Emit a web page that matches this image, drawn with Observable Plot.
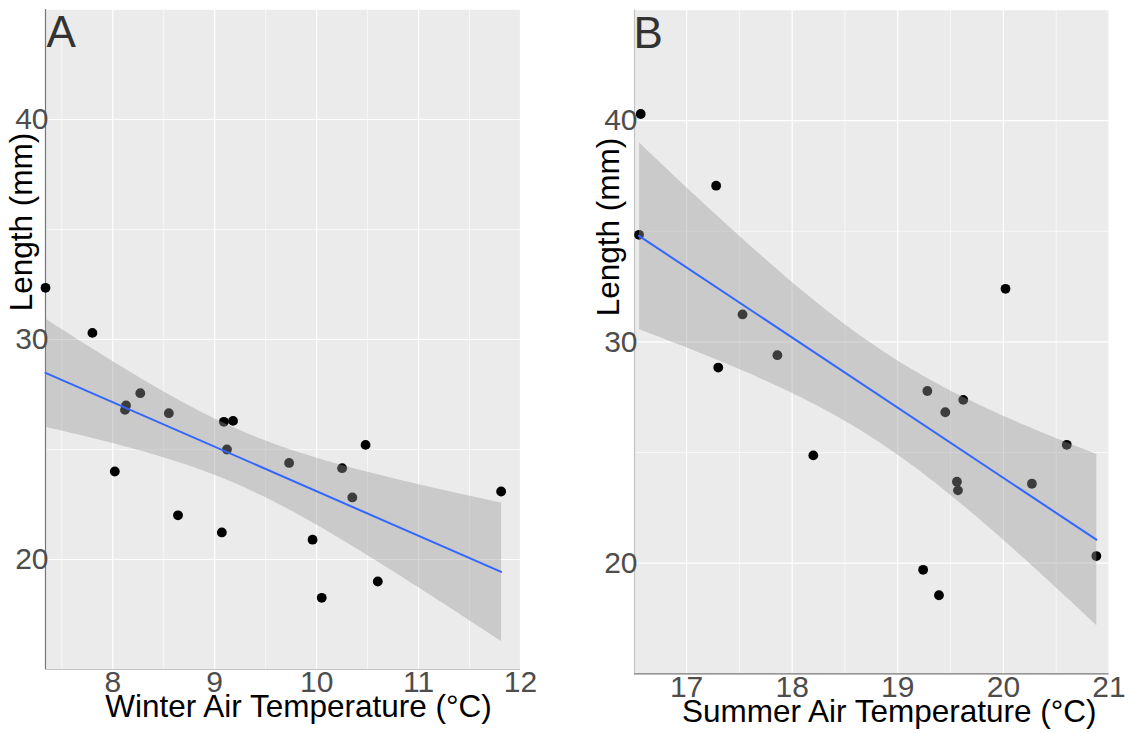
<!DOCTYPE html>
<html>
<head>
<meta charset="utf-8">
<script src="https://cdn.jsdelivr.net/npm/d3@7"></script>
<script src="https://cdn.jsdelivr.net/npm/@observablehq/plot@0.6"></script>
<style>
  html, body { margin: 0; padding: 0; background: #ffffff; }
  #wrap { position: relative; width: 1132px; height: 733px; overflow: hidden; }
  #wrap svg { position: absolute; top: 0; overflow: visible; }
</style>
</head>
<body>
<div id="wrap"></div>
<script>
// ---- Data ----
const winterTemp   = [7.34, 7.80, 8.27, 8.13, 8.12, 8.55, 9.09, 9.18, 9.12, 10.48, 8.02, 9.73, 10.25, 10.35, 11.81, 8.64, 9.07, 9.96, 10.60, 10.05];
const winterLength = [32.35, 30.30, 27.56, 27.0, 26.8, 26.65, 26.26, 26.30, 25.0, 25.21, 24.0, 24.39, 24.15, 22.82, 23.09, 22.01, 21.23, 20.9, 19.0, 18.26];

const summerTemp   = [16.566, 16.55, 17.28, 20.02, 17.53, 17.86, 17.30, 19.28, 19.62, 19.45, 20.60, 18.20, 19.56, 19.57, 20.27, 20.88, 19.24, 19.39];
const summerLength = [40.30, 34.84, 37.06, 32.40, 31.24, 29.40, 28.84, 27.78, 27.38, 26.82, 25.35, 24.87, 23.68, 23.29, 23.59, 20.32, 19.70, 18.55];

const xTicksA = [8, 9, 10, 11, 12];
const xMinorA = [7.5, 8.5, 9.5, 10.5, 11.5];
const xTicksB = [17, 18, 19, 20, 21];
const xMinorB = [17.5, 18.5, 19.5, 20.5];
const yTicks  = [20, 30, 40];
const yMinor  = [15, 25, 35, 45];

const xDomainA = [7.34, 12];
const xDomainB = [16.507, 21];
const yDomain  = [15, 45];

const panelLabelA = "A";
const panelLabelB = "B";
const xTitleA = "Winter Air Temperature (°C)";
const xTitleB = "Summer Air Temperature (°C)";
const yTitle  = "Length (mm)";

const winter = winterTemp.map((t, i) => ({temp: t, length: winterLength[i]}));
const summer = summerTemp.map((t, i) => ({temp: t, length: summerLength[i]}));

const FONT = "'Liberation Sans', Arial, Helvetica, sans-serif";
const fmt = d => String(d);

function panel(cfg) {
  return Plot.plot({
    width: cfg.width,
    height: 733,
    marginLeft: cfg.ml,
    marginRight: cfg.mr,
    marginTop: cfg.mt,
    marginBottom: cfg.mb,
    style: {fontFamily: FONT, background: "transparent", overflow: "visible"},
    x: {domain: cfg.xDomain},
    y: {domain: yDomain},
    marks: [
      Plot.frame({fill: "#EBEBEB", stroke: "none"}),
      Plot.gridX({ticks: cfg.xMinor, stroke: "#ffffff", strokeOpacity: 1, strokeWidth: 0.6}),
      Plot.gridY({ticks: yMinor, stroke: "#ffffff", strokeOpacity: 1, strokeWidth: 0.6}),
      Plot.gridX({ticks: cfg.xTicks, stroke: "#ffffff", strokeOpacity: 1, strokeWidth: 1.2}),
      Plot.gridY({ticks: yTicks, stroke: "#ffffff", strokeOpacity: 1, strokeWidth: 1.2}),
      Plot.ruleX([cfg.xDomain[0]], {stroke: cfg.leftAxisColor, strokeWidth: 1.2}),
      Plot.ruleY([yDomain[0]], {stroke: cfg.bottomAxisColor, strokeWidth: 1.2}),
      Plot.dot(cfg.data, {x: "temp", y: "length", r: 4.9, fill: "#000000", stroke: "none"}),
      Plot.linearRegressionY(cfg.data, {
        x: "temp", y: "length", ci: 0.95,
        stroke: "#3366FF", strokeWidth: 2,
        fill: "#999999", fillOpacity: 0.4
      }),
      Plot.axisX({ticks: cfg.xTicks, tickFormat: fmt, tickSize: 0, tickPadding: 1.5, fontSize: 30, fill: "#4D4D4D", label: null}),
      Plot.axisY({ticks: yTicks, tickFormat: fmt, tickSize: 0, tickPadding: -3, fontSize: 30, fill: "#4D4D4D", label: null}),
      Plot.text([cfg.panelLabel], {text: d => d, frameAnchor: "top-left", textAnchor: "start", lineAnchor: "top",
        fontSize: 44, fill: "#333333", dx: cfg.labelDx, dy: cfg.labelDy}),
      Plot.text([cfg.xTitle], {text: d => d, frameAnchor: "bottom", textAnchor: "middle", lineAnchor: "middle",
        fontSize: 31.5, fill: "#000000", dx: cfg.xtDx, dy: cfg.xtDy}),
      Plot.text([yTitle], {text: d => d, frameAnchor: "top-left", rotate: -90, textAnchor: "middle", lineAnchor: "middle",
        fontSize: 31.5, fill: "#000000", dx: cfg.ytDx, dy: cfg.ytDy})
    ]
  });
}

const svgA = panel({
  width: 560, ml: 45, mr: 40, mt: 9, mb: 64,
  xDomain: xDomainA, xTicks: xTicksA, xMinor: xMinorA, data: winter,
  leftAxisColor: "#777777", bottomAxisColor: "#C4C4C4",
  panelLabel: panelLabelA, labelDx: 1, labelDy: 6,
  xTitle: xTitleA, xtDx: 15.5, xtDy: 37,
  ytDx: -24, ytDy: 212.5
});
const svgB = panel({
  width: 572, ml: 74, mr: 23.5, mt: 9.5, mb: 59.7,
  xDomain: xDomainB, xTicks: xTicksB, xMinor: xMinorB, data: summer,
  leftAxisColor: "#C4C4C4", bottomAxisColor: "#777777",
  panelLabel: panelLabelB, labelDx: -1, labelDy: 7,
  xTitle: xTitleB, xtDx: 17.5, xtDy: 38,
  ytDx: -25.5, ytDy: 217
});
svgA.style.left = "0px";
svgB.style.left = "560px";
const wrap = document.getElementById("wrap");
wrap.appendChild(svgA);
wrap.appendChild(svgB);
</script>
</body>
</html>
